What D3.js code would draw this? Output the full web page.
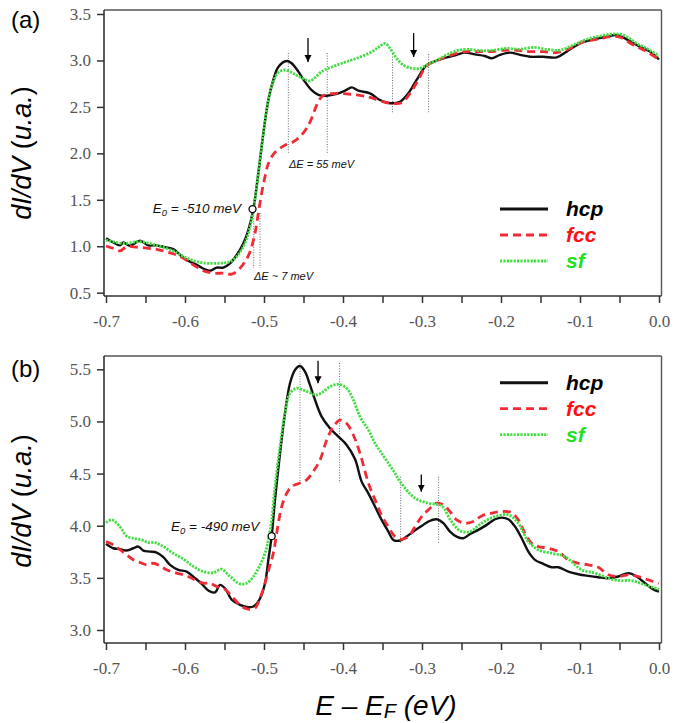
<!DOCTYPE html>
<html><head><meta charset="utf-8">
<script src="https://cdn.jsdelivr.net/npm/d3@7"></script>
<style>body{margin:0;background:#fff}svg{display:block}.tick text{font-family:"Liberation Serif","Times New Roman",serif !important;}</style>
</head><body>
<svg id="chart" width="674" height="723"></svg>
<script>
// ---------- data ----------
const xTickValues = [-0.7,-0.65,-0.6,-0.55,-0.5,-0.45,-0.4,-0.35,-0.3,-0.25,-0.2,-0.15,-0.1,-0.05,0.0];
const xTickLabels = ["-0.7","","-0.6","","-0.5","","-0.4","","-0.3","","-0.2","","-0.1","","0.0"];
const yTickValuesA = [0.5,1.0,1.5,2.0,2.5,3.0,3.5];
const yTickLabelsA = ["0.5","1.0","1.5","2.0","2.5","3.0","3.5"];
const yTickValuesB = [3.0,3.5,4.0,4.5,5.0,5.5];
const yTickLabelsB = ["3.0","3.5","4.0","4.5","5.0","5.5"];
const seriesNames = ["hcp","fcc","sf"];

// panel (a)  [E (eV), dI/dV]
const hcpA = [[-0.7,1.085],[-0.6907,1.04],[-0.6823,1.01],[-0.6781,1.04],[-0.6696,1.006],[-0.657,1.06],[-0.6464,1.01],[-0.6359,1.01],[-0.6253,0.99],[-0.6148,0.97],[-0.6042,0.89],[-0.5937,0.834],[-0.5852,0.80],[-0.5747,0.75],[-0.5684,0.737],[-0.5599,0.77],[-0.5515,0.77],[-0.543,0.816],[-0.5346,0.906],[-0.5262,1.03],[-0.5198,1.175],[-0.5135,1.40],[-0.5072,1.785],[-0.5008,2.215],[-0.4945,2.574],[-0.4882,2.79],[-0.4819,2.93],[-0.4713,2.994],[-0.465,2.97],[-0.4565,2.88],[-0.4481,2.77],[-0.4397,2.68],[-0.4312,2.63],[-0.4207,2.62],[-0.408,2.64],[-0.3975,2.675],[-0.389,2.71],[-0.3806,2.675],[-0.3658,2.646],[-0.3532,2.574],[-0.3405,2.54],[-0.3278,2.556],[-0.3173,2.646],[-0.3068,2.79],[-0.2941,2.95],[-0.2814,2.998],[-0.2688,3.033],[-0.2561,3.06],[-0.2456,3.084],[-0.2329,3.066],[-0.2203,3.048],[-0.2118,3.023],[-0.2013,3.06],[-0.1886,3.084],[-0.1759,3.06],[-0.1633,3.04],[-0.1464,3.04],[-0.1295,3.033],[-0.1169,3.095],[-0.1,3.184],[-0.0831,3.227],[-0.0662,3.256],[-0.0536,3.274],[-0.0409,3.227],[-0.0241,3.148],[-0.0114,3.095],[0.0,3.01]];
const fccA = [[-0.7,1.003],[-0.6907,0.977],[-0.6823,0.95],[-0.6738,0.995],[-0.6612,0.99],[-0.6485,0.98],[-0.6359,0.967],[-0.6232,0.94],[-0.6105,0.906],[-0.5979,0.85],[-0.5895,0.80],[-0.5768,0.737],[-0.5641,0.71],[-0.5515,0.71],[-0.5409,0.70],[-0.5325,0.745],[-0.5241,0.833],[-0.5177,0.94],[-0.5114,1.14],[-0.5072,1.355],[-0.503,1.57],[-0.4987,1.75],[-0.4945,1.89],[-0.4882,1.99],[-0.4797,2.054],[-0.4713,2.097],[-0.4629,2.125],[-0.4544,2.18],[-0.446,2.27],[-0.4397,2.377],[-0.4333,2.52],[-0.427,2.61],[-0.4207,2.635],[-0.408,2.646],[-0.3954,2.64],[-0.3827,2.63],[-0.37,2.61],[-0.3658,2.603],[-0.3532,2.567],[-0.3405,2.54],[-0.3257,2.545],[-0.3152,2.646],[-0.3046,2.79],[-0.2941,2.94],[-0.2688,3.04],[-0.2456,3.095],[-0.2308,3.095],[-0.2139,3.095],[-0.197,3.11],[-0.1802,3.11],[-0.1633,3.095],[-0.1464,3.095],[-0.1295,3.084],[-0.1127,3.13],[-0.0958,3.2],[-0.0789,3.227],[-0.062,3.256],[-0.0494,3.25],[-0.0325,3.166],[-0.0156,3.095],[0.0,3.01]];
const sfA = [[-0.7,1.067],[-0.6781,1.03],[-0.657,1.05],[-0.6359,1.01],[-0.6148,0.95],[-0.6021,0.89],[-0.5895,0.845],[-0.5768,0.82],[-0.5641,0.816],[-0.5515,0.82],[-0.543,0.833],[-0.5346,0.89],[-0.5262,0.996],[-0.5198,1.14],[-0.5135,1.39],[-0.5072,1.785],[-0.5008,2.215],[-0.4945,2.574],[-0.4882,2.77],[-0.4819,2.87],[-0.4734,2.897],[-0.465,2.87],[-0.4565,2.83],[-0.4481,2.796],[-0.4418,2.78],[-0.4354,2.815],[-0.427,2.88],[-0.4186,2.915],[-0.408,2.95],[-0.3954,2.987],[-0.3827,3.023],[-0.3658,3.084],[-0.3553,3.14],[-0.3468,3.184],[-0.3405,3.13],[-0.3321,3.023],[-0.3236,2.95],[-0.3131,2.915],[-0.3025,2.915],[-0.2941,2.95],[-0.2814,3.0],[-0.2688,3.06],[-0.2561,3.105],[-0.2435,3.12],[-0.2266,3.105],[-0.2097,3.11],[-0.1928,3.13],[-0.1759,3.12],[-0.1591,3.14],[-0.1422,3.12],[-0.1253,3.11],[-0.1084,3.166],[-0.0916,3.227],[-0.0747,3.263],[-0.0578,3.285],[-0.0451,3.274],[-0.0283,3.184],[-0.0114,3.11],[0.0,3.048]];

// panel (b)
const hcpB = [[-0.7,3.826],[-0.6907,3.784],[-0.6823,3.775],[-0.6738,3.762],[-0.6654,3.784],[-0.6591,3.80],[-0.6527,3.762],[-0.6443,3.752],[-0.6359,3.743],[-0.6274,3.698],[-0.619,3.625],[-0.6084,3.577],[-0.5979,3.56],[-0.5873,3.497],[-0.5789,3.443],[-0.5705,3.378],[-0.562,3.36],[-0.5557,3.433],[-0.5494,3.40],[-0.5409,3.29],[-0.5304,3.241],[-0.5198,3.219],[-0.5135,3.225],[-0.5059,3.29],[-0.4987,3.449],[-0.4945,3.673],[-0.4903,3.90],[-0.4861,4.248],[-0.4797,4.695],[-0.4734,5.08],[-0.4671,5.366],[-0.4608,5.494],[-0.4544,5.532],[-0.4481,5.478],[-0.4418,5.35],[-0.4354,5.206],[-0.427,5.046],[-0.4165,4.935],[-0.4059,4.855],[-0.3954,4.775],[-0.3848,4.64],[-0.3764,4.423],[-0.3679,4.31],[-0.3595,4.184],[-0.3511,4.056],[-0.3426,3.944],[-0.3363,3.864],[-0.3278,3.858],[-0.3194,3.896],[-0.311,3.944],[-0.3004,3.998],[-0.292,4.04],[-0.2814,4.062],[-0.273,4.024],[-0.2646,3.944],[-0.2561,3.896],[-0.2477,3.88],[-0.2392,3.92],[-0.2287,3.96],[-0.2181,4.008],[-0.2076,4.062],[-0.1992,4.078],[-0.1907,4.062],[-0.1823,3.992],[-0.1738,3.88],[-0.1654,3.752],[-0.157,3.673],[-0.1464,3.634],[-0.1359,3.602],[-0.1274,3.602],[-0.1148,3.56],[-0.1021,3.535],[-0.0895,3.519],[-0.0768,3.506],[-0.0641,3.497],[-0.0515,3.513],[-0.0388,3.545],[-0.0283,3.513],[-0.0177,3.449],[-0.0072,3.39],[0.0,3.369]];
const fccB = [[-0.7,3.848],[-0.6907,3.816],[-0.6823,3.77],[-0.6738,3.72],[-0.6654,3.673],[-0.657,3.647],[-0.6485,3.625],[-0.6401,3.64],[-0.6316,3.615],[-0.6232,3.577],[-0.6105,3.545],[-0.5979,3.52],[-0.5873,3.48],[-0.5768,3.449],[-0.5684,3.449],[-0.56,3.418],[-0.5494,3.389],[-0.5388,3.306],[-0.5282,3.225],[-0.5198,3.2],[-0.5114,3.21],[-0.505,3.306],[-0.4987,3.449],[-0.4924,3.625],[-0.4882,3.736],[-0.4839,3.928],[-0.4776,4.184],[-0.4713,4.31],[-0.465,4.376],[-0.4544,4.41],[-0.446,4.44],[-0.4376,4.52],[-0.4291,4.63],[-0.4207,4.82],[-0.4122,4.95],[-0.4038,5.013],[-0.3954,4.98],[-0.3869,4.87],[-0.3785,4.695],[-0.3679,4.41],[-0.3595,4.25],[-0.3511,4.1],[-0.3426,3.99],[-0.3342,3.896],[-0.3257,3.87],[-0.3173,3.896],[-0.3089,3.99],[-0.3004,4.088],[-0.292,4.152],[-0.2814,4.216],[-0.273,4.2],[-0.2646,4.136],[-0.2561,4.056],[-0.2456,4.024],[-0.235,4.04],[-0.2245,4.094],[-0.2118,4.12],[-0.1992,4.136],[-0.1865,4.126],[-0.1781,4.056],[-0.1696,3.928],[-0.1612,3.832],[-0.1527,3.8],[-0.1401,3.784],[-0.1274,3.752],[-0.1148,3.673],[-0.1021,3.64],[-0.0895,3.625],[-0.0768,3.602],[-0.0641,3.529],[-0.0515,3.513],[-0.0388,3.529],[-0.0262,3.513],[-0.0135,3.48],[0.0,3.449]];
const sfB = [[-0.7,4.03],[-0.6928,4.056],[-0.6823,3.99],[-0.6738,3.90],[-0.6654,3.88],[-0.6549,3.864],[-0.6464,3.838],[-0.638,3.838],[-0.6274,3.80],[-0.6148,3.736],[-0.6021,3.68],[-0.5895,3.61],[-0.5768,3.56],[-0.5641,3.55],[-0.5536,3.583],[-0.543,3.513],[-0.5304,3.443],[-0.5219,3.449],[-0.5135,3.513],[-0.5059,3.61],[-0.4987,3.736],[-0.4945,3.864],[-0.4903,4.056],[-0.4861,4.376],[-0.4797,4.76],[-0.4734,5.08],[-0.4671,5.27],[-0.4587,5.318],[-0.4502,5.30],[-0.4418,5.276],[-0.4333,5.254],[-0.4249,5.286],[-0.4165,5.334],[-0.4059,5.356],[-0.3954,5.318],[-0.3869,5.206],[-0.3785,5.046],[-0.3679,4.919],[-0.3595,4.791],[-0.3511,4.695],[-0.3426,4.599],[-0.3342,4.503],[-0.3278,4.423],[-0.3089,4.264],[-0.292,4.216],[-0.2751,4.19],[-0.2641,4.056],[-0.2515,3.95],[-0.2392,3.944],[-0.2245,4.024],[-0.2076,4.088],[-0.1907,4.104],[-0.1781,4.024],[-0.1654,3.848],[-0.1527,3.768],[-0.1359,3.736],[-0.119,3.704],[-0.098,3.577],[-0.081,3.545],[-0.0641,3.497],[-0.0515,3.474],[-0.0346,3.474],[-0.0177,3.433],[0.0,3.39]];

// annotations (data coordinates)
const markersA = [[-0.5145,1.40]];
const markersB = [[-0.4903,3.90]];
const dottedA = [[-0.513,1.358,0.766],[-0.505,1.358,0.766],[-0.4692,3.08,2.004],[-0.4199,3.08,2.004],[-0.3373,3.069,2.434],[-0.2916,3.069,2.434]];
const dottedB = [[-0.4544,5.56,4.41],[-0.4043,5.56,4.41],[-0.327,4.47,3.835],[-0.279,4.47,3.835]];
const arrowsA = [[-0.4443,3.242,2.983],[-0.3106,3.295,3.037]];
const arrowsB = [[-0.4316,5.582,5.366],[-0.3009,4.49,4.326]];

// ---------- drawing ----------
const svg = d3.select("#chart");
const x = d3.scaleLinear().domain([-0.7, 0]).range([106, 659]);
const frameL = 104, frameR = 661.5;

const styles = {
  hcp: {stroke:"#111", width:2.4, dash:null, text:"#000"},
  fcc: {stroke:"#ef2b36", width:2.8, dash:"8,5", text:"#ff1010"},
  sf:  {stroke:"#45dc45", width:2.8, dash:"2.2,1.2", text:"#22e022"}
};

const panels = [
  {id:"a", label:"(a)", labelY:28, top:10, bottom:296, yDomain:[0.5,3.5], yRange:[292.7,14],
   yTicks:yTickValuesA, yLabels:yTickLabelsA, data:[hcpA,fccA,sfA], legendY:209, titleY:153,
   markers:markersA, dotted:dottedA, arrows:arrowsA,
   texts:[{sub:true, main:"E", rest:" = -510 meV", E:-0.5291, v:1.358, anchor:"end", size:13.5},
          {sub:false, main:"\u0394E = 55 meV", E:-0.4684, v:1.842, anchor:"start", size:11},
          {sub:false, main:"\u0394E ~ 7 meV", E:-0.5127, v:0.637, anchor:"start", size:11}]},
  {id:"b", label:"(b)", labelY:377, top:356, bottom:643, yDomain:[3.0,5.5], yRange:[630,369.3],
   yTicks:yTickValuesB, yLabels:yTickLabelsB, data:[hcpB,fccB,sfB], legendY:382.7, titleY:501,
   markers:markersB, dotted:dottedB, arrows:arrowsB,
   texts:[{sub:true, main:"E", rest:" = -490 meV", E:-0.6177, v:3.95, anchor:"start", size:13.5}]}
];

const defs = svg.append("defs");
defs.append("marker").attr("id","arrowhead").attr("viewBox","0 0 10 10")
  .attr("refX",10).attr("refY",5).attr("markerWidth",7).attr("markerHeight",8)
  .attr("markerUnits","userSpaceOnUse").attr("orient","auto")
  .append("path").attr("d","M0,0 L10,5 L0,10 z").attr("fill","#000");

panels.forEach(p => {
  const y = d3.scaleLinear().domain(p.yDomain).range(p.yRange);
  const g = svg.append("g");

  defs.append("clipPath").attr("id","clip"+p.id).append("rect")
    .attr("x",frameL).attr("y",p.top).attr("width",frameR-frameL).attr("height",p.bottom-p.top);

  // frame
  g.append("line").attr("x1",frameL).attr("x2",frameR).attr("y1",p.top).attr("y2",p.top).attr("stroke","#555").attr("stroke-width",1.4);
  g.append("line").attr("x1",frameR).attr("x2",frameR).attr("y1",p.top).attr("y2",p.bottom).attr("stroke","#555").attr("stroke-width",1.4);

  // axes
  const xa = g.append("g").attr("transform",`translate(0,${p.bottom})`)
    .call(d3.axisBottom(x).tickValues(xTickValues).tickFormat((d,i)=>xTickLabels[i]).tickSize(7).tickSizeOuter(0).tickPadding(12));
  const ya = g.append("g").attr("transform",`translate(${frameL},0)`)
    .call(d3.axisLeft(y).tickValues(p.yTicks).tickFormat((d,i)=>p.yLabels[i]).tickSize(7).tickSizeOuter(0).tickPadding(6));
  [xa,ya].forEach(a => {
    a.attr("font-family","'Liberation Serif','Times New Roman',serif").attr("font-size",17);
    a.select(".domain").remove();
    a.selectAll(".tick line").attr("stroke","#333").attr("stroke-width",1.5);
    a.selectAll(".tick text").attr("fill","#555");
  });
  g.append("line").attr("x1",frameL).attr("x2",frameR).attr("y1",p.bottom).attr("y2",p.bottom).attr("stroke","#333").attr("stroke-width",1.6);
  g.append("line").attr("x1",frameL).attr("x2",frameL).attr("y1",p.top).attr("y2",p.bottom).attr("stroke","#333").attr("stroke-width",1.6);

  // dotted guides
  g.selectAll(".guide").data(p.dotted).join("line")
    .attr("x1",d=>x(d[0])).attr("x2",d=>x(d[0])).attr("y1",d=>y(d[1])).attr("y2",d=>y(d[2]))
    .attr("stroke","#444").attr("stroke-width",0.8).attr("stroke-dasharray","1,1.6");

  // curves
  const line = d3.line().x(d=>x(d[0])).y(d=>y(d[1])).curve(d3.curveCatmullRom.alpha(0.5));
  const cg = g.append("g").attr("clip-path",`url(#clip${p.id})`);
  seriesNames.forEach((name,i) => {
    const s = styles[name];
    cg.append("path").datum(p.data[i]).attr("d",line).attr("fill","none")
      .attr("stroke",s.stroke).attr("stroke-width",s.width)
      .attr("stroke-dasharray",s.dash).attr("stroke-linejoin","round");
  });

  // arrows
  g.selectAll(".arrow").data(p.arrows).join("line")
    .attr("x1",d=>x(d[0])).attr("x2",d=>x(d[0])).attr("y1",d=>y(d[1])).attr("y2",d=>y(d[2]))
    .attr("stroke","#000").attr("stroke-width",1.3).attr("marker-end","url(#arrowhead)");

  // markers
  g.selectAll(".mk").data(p.markers).join("circle")
    .attr("cx",d=>x(d[0])).attr("cy",d=>y(d[1])).attr("r",3.5)
    .attr("fill","#fff").attr("stroke","#000").attr("stroke-width",1.3);

  // annotation texts
  p.texts.forEach(t => {
    const tx = g.append("text").attr("x",x(t.E)).attr("y",y(t.v)).attr("text-anchor",t.anchor)
      .style("font-family","'Liberation Sans',Arial,sans-serif").style("font-style","italic")
      .style("font-size",t.size+"px").attr("fill","#111");
    if (t.sub) {
      tx.append("tspan").text(t.main);
      tx.append("tspan").text("0").attr("dy",3).style("font-size",(t.size*0.7)+"px");
      tx.append("tspan").text(t.rest).attr("dy",-3);
    } else tx.text(t.main);
  });

  // legend
  seriesNames.forEach((name,i) => {
    const s = styles[name];
    const ly = p.legendY + i*26;
    g.append("line").attr("x1",500).attr("x2",548).attr("y1",ly).attr("y2",ly)
      .attr("stroke",s.stroke).attr("stroke-width",name==="hcp"?3:s.width).attr("stroke-dasharray",s.dash);
    g.append("text").attr("x",566).attr("y",ly+7).text(name)
      .style("font-family","'Liberation Sans',Arial,sans-serif").style("font-style","italic").style("font-weight","bold")
      .style("font-size","21px").attr("fill",s.text);
  });

  // panel label
  svg.append("text").attr("x",11).attr("y",p.labelY).text(p.label)
    .style("font-family","'Liberation Sans',Arial,sans-serif").style("font-size","24px").attr("fill","#000");

  // y title
  const yt = svg.append("text").attr("transform",`translate(31,${p.titleY}) rotate(-90)`).attr("text-anchor","middle")
    .style("font-family","'Liberation Sans',Arial,sans-serif").style("font-size","27px").attr("fill","#000");
  yt.append("tspan").text("dI/dV").style("font-style","italic");
  yt.append("tspan").text(" (");
  yt.append("tspan").text("u.a.").style("font-style","italic");
  yt.append("tspan").text(")");
});

// x title
const xt = svg.append("text").attr("x",386).attr("y",715).attr("text-anchor","middle")
  .style("font-family","'Liberation Sans',Arial,sans-serif").style("font-size","28px").style("font-style","italic").attr("fill","#000");
xt.append("tspan").text("E \u2013 E");
xt.append("tspan").text("F").attr("dy",3).style("font-size","20px");
xt.append("tspan").text(" (eV)").attr("dy",-3);
</script>
</body></html>
